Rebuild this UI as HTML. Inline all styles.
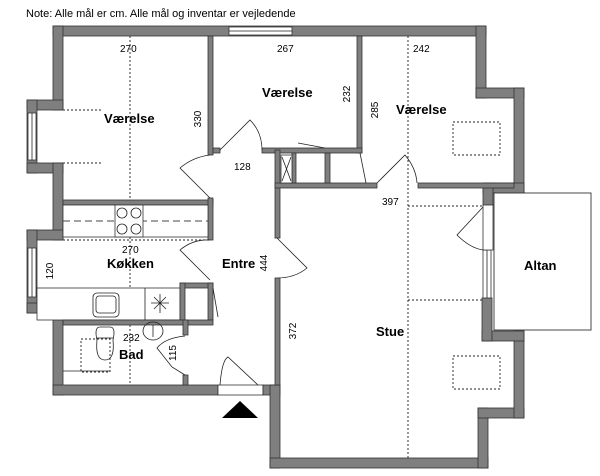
<!DOCTYPE html>
<html><head><meta charset="utf-8"><style>
html,body{margin:0;padding:0;background:#fff;}
svg{display:block;font-family:"Liberation Sans",sans-serif;}
.w{fill:#7f7f7f;stroke:#333;stroke-width:0.8;}
.l{fill:none;stroke:#222;stroke-width:0.8;}
.d{fill:none;stroke:#222;stroke-width:0.9;stroke-dasharray:2,2;}
.b{font-weight:bold;font-size:13px;}
</style></head><body>
<svg width="600" height="476" viewBox="0 0 600 476" xmlns="http://www.w3.org/2000/svg">
<text x="26" y="17" font-size="11">Note: Alle mål er cm. Alle mål og inventar er vejledende</text>
<line class="d" x1="130" y1="36" x2="130" y2="200"/>
<line class="d" x1="63" y1="110" x2="103" y2="110"/>
<line class="d" x1="63" y1="163" x2="103" y2="163"/>
<line class="d" x1="408" y1="36" x2="408" y2="458"/>
<line class="d" x1="408" y1="206" x2="482" y2="206"/>
<line class="d" x1="408" y1="300" x2="482" y2="300"/>
<rect class="d" x="453" y="122" width="47" height="33"/>
<rect class="d" x="453" y="356" width="47" height="33"/>
<line class="d" x1="130" y1="237" x2="130" y2="395"/>
<line class="d" x1="63" y1="240" x2="208" y2="240"/>
<line class="d" x1="63" y1="304" x2="180" y2="304"/>
<!-- outer walls -->
<rect class="w" x="53" y="26" width="433" height="10"/>
<rect x="229" y="27" width="63" height="8" fill="#fff" stroke="#333" stroke-width="0.8"/>
<line class="l" x1="229" y1="31" x2="292" y2="31"/>
<rect class="w" x="53" y="26" width="10" height="84"/>
<rect class="w" x="27" y="100" width="36" height="10"/>
<rect class="w" x="27" y="100" width="10" height="73"/>
<rect class="w" x="27" y="163" width="36" height="10"/>
<rect class="w" x="53" y="163" width="10" height="77"/>
<rect class="w" x="27" y="230" width="36" height="10"/>
<rect class="w" x="27" y="230" width="10" height="83"/>
<rect class="w" x="27" y="303" width="36" height="10"/>
<rect class="w" x="53" y="303" width="10" height="92"/>
<rect x="28" y="113" width="8" height="47" fill="#fff" stroke="#333" stroke-width="0.8"/>
<line class="l" x1="32" y1="113" x2="32" y2="160"/>
<rect x="28" y="248" width="8" height="49" fill="#fff" stroke="#333" stroke-width="0.8"/>
<line class="l" x1="32" y1="248" x2="32" y2="297"/>
<rect class="w" x="53" y="385" width="165" height="10"/>
<rect x="218" y="385" width="45" height="10" fill="#fff" stroke="#333" stroke-width="0.8"/>
<rect class="w" x="263" y="385" width="17" height="10"/>
<rect class="w" x="270" y="385" width="10" height="83"/>
<rect class="w" x="270" y="458" width="218" height="10"/>
<rect class="w" x="478" y="408" width="10" height="60"/>
<rect class="w" x="478" y="408" width="46" height="10"/>
<rect class="w" x="514" y="331" width="10" height="87"/>
<rect class="w" x="482" y="331" width="42" height="10"/>
<rect class="w" x="482" y="298" width="10" height="43"/>
<rect x="483" y="250" width="8" height="48" fill="#fff" stroke="#333" stroke-width="0.8"/>
<line class="l" x1="487" y1="250" x2="487" y2="298"/>
<rect class="w" x="476" y="26" width="10" height="72"/>
<rect class="w" x="476" y="88" width="48" height="10"/>
<rect class="w" x="514" y="88" width="10" height="105"/>
<rect class="w" x="483" y="183" width="41" height="10"/>
<rect class="w" x="483" y="183" width="10" height="22"/>
<rect x="483" y="205" width="10" height="45" fill="#fff" stroke="#333" stroke-width="0.8"/>
<rect x="494" y="193" width="97" height="137" fill="#fff" stroke="#333" stroke-width="0.9"/>
<path class="l" d="M483 207 L457 235 Q470 248 483 250"/>
<!-- interior walls -->
<rect class="w" x="208" y="36" width="5" height="119"/>
<rect class="w" x="213" y="148" width="7" height="5"/>
<rect class="w" x="357" y="36" width="5" height="117"/>
<rect class="w" x="262" y="148" width="100" height="5"/>
<path class="l" d="M220 150 L250 120 Q262 132 262 150"/>
<rect class="w" x="275" y="150" width="5" height="88"/>
<rect class="w" x="275" y="183" width="102" height="5"/>
<rect class="w" x="292" y="153" width="4" height="30"/>
<rect class="w" x="325" y="153" width="5" height="30"/>
<rect x="281" y="155" width="11" height="28" fill="#fff" stroke="#333" stroke-width="0.8"/>
<path class="l" d="M282 157 L291 181 M291 157 L282 181"/>
<line class="l" x1="298" y1="143" x2="325" y2="148"/>
<line class="l" x1="360" y1="153" x2="366" y2="183"/>
<rect class="w" x="418" y="183" width="96" height="5"/>
<path class="l" d="M377 183 L405 155 Q416 168 417 183"/>
<!-- doors -->
<path class="l" d="M210 198 L180 168 Q193 157 210 155"/>
<rect class="w" x="63" y="200" width="150" height="5"/>
<rect class="w" x="208" y="198" width="5" height="42"/>
<path class="l" d="M210 280 L180 250 Q193 239 210 240"/>
<path class="l" d="M277 238 L307 268 Q295 278 277 278"/>
<rect class="w" x="275" y="278" width="5" height="107"/>
<!-- kitchen counter top -->
<rect x="63" y="205" width="145" height="32" fill="#fff" stroke="#333" stroke-width="0.8"/>
<line x1="63" y1="221" x2="208" y2="221" stroke="#444" stroke-width="1" stroke-dasharray="7,4"/>
<rect x="115" y="205" width="28" height="32" fill="#fff" stroke="#333" stroke-width="0.8"/>
<circle class="l" cx="122" cy="213" r="5"/><circle class="l" cx="136" cy="213" r="5"/>
<circle class="l" cx="122" cy="229" r="5"/><circle class="l" cx="136" cy="229" r="5"/>
<!-- kitchen bottom counter -->
<rect x="37" y="288" width="143" height="32" fill="#fff" stroke="#333" stroke-width="0.8"/>
<line class="l" x1="145" y1="288" x2="145" y2="320"/>
<rect class="l" x="93" y="293" width="26" height="24" rx="4"/>
<rect class="l" x="96" y="296" width="20" height="17" rx="3"/>
<path class="l" d="M160 294 V313 M151 303 H169 M154 297 L166 309 M166 297 L154 309"/>
<rect class="w" x="180" y="283" width="33" height="5"/>
<rect class="w" x="180" y="283" width="5" height="37"/>
<rect class="w" x="208" y="283" width="5" height="37"/>
<line class="l" x1="213" y1="288" x2="218" y2="317"/>
<rect class="w" x="63" y="320" width="150" height="5"/>
<!-- bad -->
<rect class="w" x="183" y="320" width="5" height="15"/>
<rect class="w" x="183" y="375" width="5" height="10"/>
<path class="l" d="M185 336 Q165 338 157 348 L172 367 L185 375"/>
<ellipse class="l" cx="153" cy="331" rx="10" ry="9"/>
<path class="l" d="M153 325 V337"/>
<path class="l" d="M100 327 Q94 327 97 340 Q95 360 105 360 Q115 360 113 340 Q116 327 110 327 Z"/>
<line class="l" x1="97" y1="338" x2="113" y2="338"/>
<path class="d" d="M81 339 H110 V372 H81 Z"/>
<line class="l" x1="63" y1="371" x2="110" y2="371"/>
<path class="l" d="M220 385 Q222 360 228 357 L258 385"/>
<polygon points="222,418 258,418 240,401" fill="#000"/>
<!-- labels -->
<text class="b" x="104" y="123">Værelse</text>
<text class="b" x="262" y="97">Værelse</text>
<text class="b" x="396" y="114">Værelse</text>
<text class="b" x="107" y="268">Køkken</text>
<text class="b" x="222" y="268">Entre</text>
<text class="b" x="376" y="336">Stue</text>
<text class="b" x="119" y="359">Bad</text>
<text class="b" x="524" y="270">Altan</text>
<g font-size="10">
<text x="120" y="52">270</text>
<text x="277" y="52">267</text>
<text x="413" y="52">242</text>
<text x="234" y="170">128</text>
<text x="382" y="205">397</text>
<text x="122" y="253">270</text>
<text x="123" y="341">232</text>
<text transform="translate(201,119) rotate(-90)" text-anchor="middle">330</text>
<text transform="translate(350,94) rotate(-90)" text-anchor="middle">232</text>
<text transform="translate(378,110) rotate(-90)" text-anchor="middle">285</text>
<text transform="translate(53,271) rotate(-90)" text-anchor="middle">120</text>
<text transform="translate(267,263) rotate(-90)" text-anchor="middle">444</text>
<text transform="translate(296,331) rotate(-90)" text-anchor="middle">372</text>
<text transform="translate(176,353) rotate(-90)" text-anchor="middle">115</text>
</g>
</svg>
</body></html>
